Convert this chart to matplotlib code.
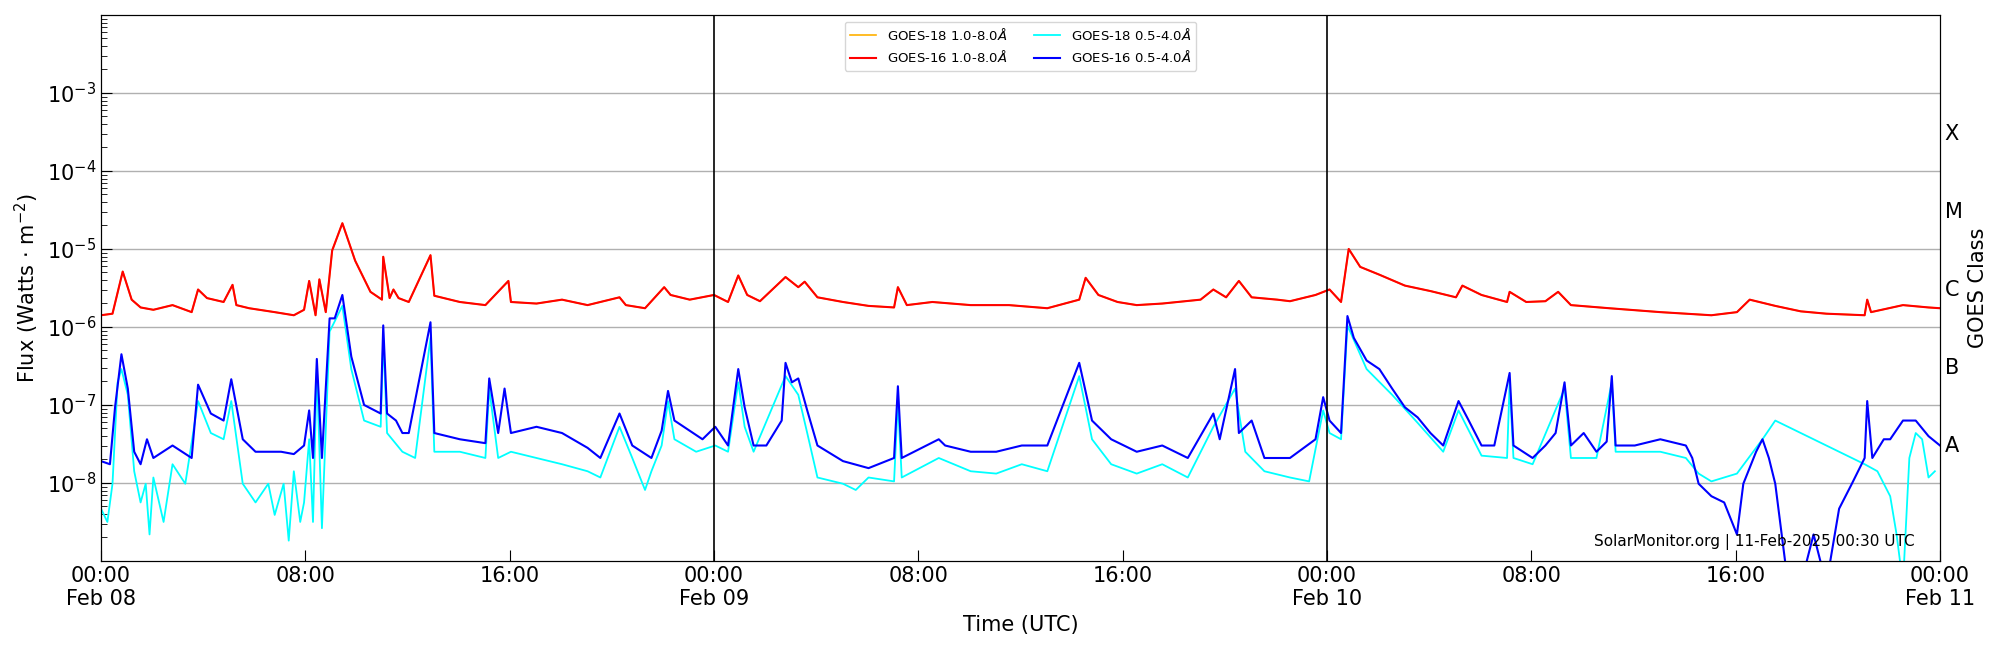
import datetime as dt

import matplotlib
matplotlib.use("Agg")
import matplotlib.pyplot as plt
import numpy as np

START = dt.datetime(2025, 2, 8)

# (hours since Feb 08 00:00 UTC, log10 flux in W m^-2)
xrs_long = [
    (0.0, -5.85), (0.45, -5.83), (0.85, -5.29), (1.2, -5.65), (1.55, -5.75), (2.05, -5.78),
    (2.8, -5.72), (3.55, -5.81), (3.8, -5.52), (4.15, -5.63), (4.8, -5.68), (5.15, -5.46),
    (5.3, -5.72), (5.8, -5.76), (6.8, -5.81), (7.55, -5.85), (7.95, -5.78), (8.15, -5.41),
    (8.4, -5.85), (8.55, -5.39), (8.8, -5.81), (9.05, -5.02), (9.45, -4.67), (9.95, -5.15),
    (10.55, -5.55), (11.0, -5.65), (11.05, -5.10), (11.3, -5.63), (11.45, -5.52),
    (11.65, -5.63), (12.05, -5.68), (12.9, -5.08), (13.05, -5.60), (14.05, -5.68),
    (15.05, -5.72), (15.95, -5.41), (16.05, -5.68), (17.05, -5.70), (18.05, -5.65),
    (19.05, -5.72), (20.3, -5.62), (20.55, -5.72), (21.3, -5.76), (22.05, -5.49),
    (22.3, -5.59), (23.05, -5.65), (24.0, -5.59), (24.55, -5.68), (24.95, -5.34),
    (25.3, -5.59), (25.8, -5.67), (26.8, -5.36), (27.3, -5.49), (27.55, -5.42),
    (28.05, -5.62), (29.05, -5.68), (30.05, -5.73), (31.05, -5.75), (31.2, -5.49),
    (31.55, -5.72), (32.55, -5.68), (34.05, -5.72), (35.55, -5.72), (37.05, -5.76),
    (38.3, -5.65), (38.55, -5.37), (39.05, -5.59), (39.8, -5.68), (40.55, -5.72),
    (41.55, -5.70), (43.05, -5.65), (43.55, -5.52), (44.05, -5.62), (44.55, -5.41),
    (45.05, -5.62), (46.05, -5.65), (46.55, -5.67), (47.55, -5.59), (48.1, -5.52),
    (48.55, -5.68), (48.85, -5.00), (49.3, -5.23), (50.05, -5.33), (51.05, -5.47),
    (52.05, -5.54), (53.05, -5.62), (53.3, -5.47), (54.05, -5.59), (55.05, -5.68),
    (55.15, -5.55), (55.8, -5.68), (56.55, -5.67), (57.05, -5.55), (57.55, -5.72),
    (59.05, -5.76), (61.05, -5.81), (63.05, -5.85), (64.05, -5.81), (64.55, -5.65),
    (65.55, -5.73), (66.55, -5.80), (67.55, -5.83), (69.05, -5.85), (69.15, -5.65),
    (69.3, -5.81), (70.55, -5.72), (71.55, -5.75), (72.0, -5.76),
]

xrs_short16 = [
    (0.0, -7.72), (0.35, -7.76), (0.55, -7.03), (0.8, -6.35), (1.05, -6.79), (1.3, -7.60),
    (1.55, -7.76), (1.8, -7.44), (2.05, -7.68), (2.8, -7.52), (3.55, -7.68), (3.8, -6.74),
    (4.3, -7.11), (4.8, -7.20), (5.1, -6.67), (5.55, -7.44), (6.05, -7.60), (7.05, -7.60),
    (7.55, -7.63), (7.95, -7.52), (8.15, -7.07), (8.3, -7.68), (8.45, -6.41), (8.65, -7.68),
    (8.95, -5.89), (9.15, -5.89), (9.45, -5.59), (9.8, -6.38), (10.3, -7.00), (10.95, -7.11),
    (11.05, -5.98), (11.2, -7.11), (11.55, -7.20), (11.8, -7.36), (12.05, -7.36),
    (12.9, -5.94), (13.05, -7.36), (14.05, -7.44), (15.05, -7.49), (15.2, -6.66),
    (15.55, -7.36), (15.8, -6.79), (16.05, -7.36), (17.05, -7.28), (18.05, -7.36),
    (19.05, -7.55), (19.55, -7.68), (20.3, -7.11), (20.8, -7.52), (21.55, -7.68),
    (21.95, -7.33), (22.2, -6.82), (22.45, -7.20), (23.05, -7.33), (23.55, -7.44),
    (24.05, -7.28), (24.55, -7.52), (24.95, -6.54), (25.2, -7.03), (25.55, -7.52),
    (26.05, -7.52), (26.65, -7.20), (26.8, -6.46), (27.05, -6.71), (27.3, -6.66),
    (27.65, -7.07), (28.05, -7.52), (29.05, -7.72), (30.05, -7.81), (31.05, -7.68),
    (31.2, -6.76), (31.35, -7.68), (32.8, -7.44), (33.05, -7.52), (34.05, -7.60),
    (35.05, -7.60), (36.05, -7.52), (37.05, -7.52), (38.3, -6.46), (38.8, -7.20),
    (39.55, -7.44), (40.55, -7.60), (41.55, -7.52), (42.55, -7.68), (43.55, -7.11),
    (43.8, -7.44), (44.4, -6.54), (44.55, -7.36), (45.05, -7.20), (45.55, -7.68),
    (46.55, -7.68), (47.55, -7.44), (47.85, -6.90), (48.1, -7.20), (48.55, -7.36),
    (48.8, -5.86), (49.05, -6.14), (49.55, -6.43), (50.05, -6.54), (50.55, -6.79),
    (51.05, -7.03), (51.55, -7.16), (52.05, -7.36), (52.55, -7.52), (53.15, -6.95),
    (53.55, -7.20), (54.05, -7.52), (54.55, -7.52), (55.15, -6.59), (55.3, -7.52),
    (56.05, -7.68), (56.55, -7.52), (56.95, -7.36), (57.3, -6.71), (57.55, -7.52),
    (58.05, -7.36), (58.55, -7.60), (58.95, -7.47), (59.15, -6.63), (59.3, -7.52),
    (60.05, -7.52), (61.05, -7.44), (62.05, -7.52), (62.3, -7.68), (62.55, -8.01),
    (63.05, -8.17), (63.55, -8.25), (64.05, -8.66), (64.3, -8.01), (64.8, -7.60),
    (65.05, -7.44), (65.3, -7.68), (65.55, -8.01), (65.8, -8.66), (66.05, -9.30),
    (66.55, -9.30), (67.05, -8.66), (67.55, -9.30), (68.05, -8.33), (68.55, -8.01),
    (69.05, -7.68), (69.15, -6.95), (69.35, -7.68), (69.8, -7.44), (70.05, -7.44),
    (70.55, -7.20), (71.05, -7.20), (71.55, -7.40), (72.0, -7.52),
]

xrs_short18 = [
    (0.0, -8.33), (0.25, -8.50), (0.45, -8.01), (0.65, -6.71), (0.8, -6.54), (1.05, -6.87),
    (1.3, -7.85), (1.55, -8.25), (1.75, -8.01), (1.9, -8.66), (2.05, -7.93), (2.45, -8.50),
    (2.8, -7.76), (3.3, -8.01), (3.8, -6.95), (4.3, -7.36), (4.8, -7.44), (5.1, -6.95),
    (5.55, -8.01), (6.05, -8.25), (6.55, -8.01), (6.8, -8.41), (7.15, -8.01), (7.35, -8.74),
    (7.55, -7.85), (7.8, -8.50), (7.95, -8.25), (8.15, -7.44), (8.3, -8.50), (8.45, -6.54),
    (8.65, -8.58), (8.95, -6.06), (9.45, -5.73), (9.8, -6.54), (10.3, -7.20), (10.95, -7.28),
    (11.05, -6.14), (11.2, -7.36), (11.8, -7.60), (12.3, -7.68), (12.9, -6.14),
    (13.05, -7.60), (14.05, -7.60), (15.05, -7.68), (15.2, -6.79), (15.55, -7.68),
    (16.05, -7.60), (17.05, -7.68), (18.05, -7.76), (19.05, -7.85), (19.55, -7.93),
    (20.3, -7.28), (20.8, -7.68), (21.3, -8.09), (21.55, -7.85), (21.95, -7.52),
    (22.2, -6.95), (22.45, -7.44), (23.3, -7.60), (24.05, -7.52), (24.55, -7.60),
    (24.95, -6.71), (25.2, -7.28), (25.55, -7.60), (26.8, -6.63), (27.3, -6.87),
    (27.65, -7.36), (28.05, -7.93), (29.05, -8.01), (29.55, -8.09), (30.05, -7.93),
    (31.05, -7.98), (31.2, -6.95), (31.35, -7.93), (32.8, -7.68), (34.05, -7.85),
    (35.05, -7.88), (36.05, -7.76), (37.05, -7.85), (38.3, -6.63), (38.8, -7.44),
    (39.55, -7.76), (40.55, -7.88), (41.55, -7.76), (42.55, -7.93), (43.55, -7.28),
    (44.4, -6.79), (44.8, -7.60), (45.55, -7.85), (46.55, -7.93), (47.3, -7.98),
    (47.85, -7.07), (48.1, -7.36), (48.55, -7.44), (48.8, -5.98), (49.55, -6.54),
    (50.55, -6.87), (51.55, -7.23), (52.55, -7.60), (53.15, -7.07), (54.05, -7.65),
    (55.05, -7.68), (55.15, -6.71), (55.3, -7.68), (56.05, -7.76), (57.3, -6.79),
    (57.55, -7.68), (58.55, -7.68), (59.15, -6.71), (59.3, -7.60), (60.05, -7.60),
    (61.05, -7.60), (62.05, -7.68), (62.55, -7.88), (63.05, -7.98), (63.55, -7.93),
    (64.05, -7.88), (65.05, -7.44), (65.55, -7.20), (66.05, -7.28), (67.05, -7.44),
    (68.05, -7.60), (68.55, -7.68), (69.05, -7.76), (69.55, -7.85), (70.05, -8.17),
    (70.3, -8.66), (70.55, -9.30), (70.8, -7.68), (71.05, -7.36), (71.3, -7.44),
    (71.55, -7.93), (71.8, -7.85),
]

class_ticks = [-7.5, -6.5, -5.5, -4.5, -3.5]
class_labels = ["A", "B", "C", "M", "X"]


def series(pts):
    t = [START + dt.timedelta(hours=h) for h, _ in pts]
    return t, 10 ** np.array([v for _, v in pts])


fig = plt.figure(figsize=(20, 6.5), dpi=100)
ax = fig.add_axes([0.0505, 0.137, 0.9195, 0.84])

ax.plot(*series(xrs_long), color="#ffb000", lw=1.2, label=r"GOES-18 1.0-8.0$\AA$")
ax.plot(*series(xrs_long), color="red", lw=1.5, label=r"GOES-16 1.0-8.0$\AA$")
ax.plot(*series(xrs_short18), color="cyan", lw=1.3, label=r"GOES-18 0.5-4.0$\AA$")
ax.plot(*series(xrs_short16), color="blue", lw=1.5, label=r"GOES-16 0.5-4.0$\AA$")

ax.set_yscale("log")
ax.set_ylim(1e-9, 1e-2)
ax.set_xlim(START, START + dt.timedelta(days=3))
ax.set_yticks([1e-8, 1e-7, 1e-6, 1e-5, 1e-4, 1e-3])
ax.grid(True, axis="y", color="#b0b0b0", lw=1)
for d in (1, 2):
    ax.axvline(START + dt.timedelta(days=d), color="black", lw=1.2)

ticks = [START + dt.timedelta(hours=8 * k) for k in range(10)]
ax.set_xticks(ticks)
ax.set_xticklabels([t.strftime("%H:%M\n%b %d") if t.hour == 0 else t.strftime("%H:%M")
                    for t in ticks])
ax.tick_params(which="both", direction="in", labelsize=15)
ax.tick_params(which="major", length=8)
ax.tick_params(which="minor", length=4)
ax.set_xlabel("Time (UTC)", fontsize=15)
ax.set_ylabel(r"Flux (Watts $\cdot$ m$^{-2}$)", fontsize=15)

ax2 = ax.twinx()
ax2.set_ylim(-9, -2)
ax2.set_yticks(class_ticks)
ax2.set_yticklabels(class_labels)
ax2.tick_params(length=0, labelsize=15)
ax2.set_ylabel("GOES Class", fontsize=15)

ax.legend(loc="upper center", ncol=2, fontsize=9.5, bbox_to_anchor=(0.5, 1.0))
ax.text(0.986, 0.02, "SolarMonitor.org | 11-Feb-2025 00:30 UTC", transform=ax.transAxes,
        ha="right", va="bottom", fontsize=11)

fig.savefig("out.png", dpi=100)
